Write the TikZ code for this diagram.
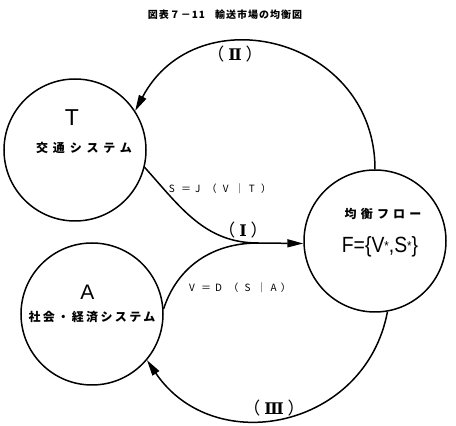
\documentclass[tikz,border=0pt]{standalone}
\usepackage{fontspec}
\newfontfamily\jp{Noto Sans CJK JP}
\newfontfamily\arial{Liberation Sans}
\newfontfamily\numfont{DejaVu Serif}
\usetikzlibrary{arrows.meta, positioning}

\tikzset{
    sys/.style={circle, draw, line width=1.5pt, minimum size=142pt, inner sep=0pt},
    flow/.style={line width=1.5pt},
    tip/.style={-{Triangle[length=16pt, width=8pt]}},
    jptext/.style={font=\jp\bfseries\fontsize{12}{12}\selectfont\addfontfeature{LetterSpace=#1}},
    big/.style={font=\arial\fontsize{#1}{#1}\selectfont},
    eqn/.style={font=\jp\fontsize{10}{10}\selectfont\addfontfeature{LetterSpace=40}},
    stepno/.style={font=\jp\fontsize{17}{17}\selectfont}
}
\newcommand{\sstar}{\raisebox{2.5pt}{\fontsize{13}{13}\selectfont*}}
\newcommand{\stage}[1]{（\hspace{4pt}{\numfont\bfseries\fontsize{16}{16}\selectfont #1}\hspace{4pt}）}

\begin{document}
\begin{tikzpicture}[x=1pt, y=1pt, >=Stealth]
\useasboundingbox (0,0) rectangle (456,426);

% ── Title ──────────────────────────────────────────────
\node[font=\jp\bfseries\fontsize{10}{10}\selectfont\addfontfeature{LetterSpace=10}] (title) at (225,411)
    {図表７－11\quad 輸送市場の均衡図};

% ── Systems ────────────────────────────────────────────
\node[sys] (T) at (75,276) {};
\node[big=23] (Tsym) at (72,308) {T};
\node[jptext=40] (Tname) at (84,278.5) {交通システム};

\node[sys] (A) at (92,112) {};
\node[big=21] (Asym) at (87.5,133.5) {A};
\node[jptext=20] (Aname) at (92,108.5) {社会・経済システム};

% ── Equilibrium flow ───────────────────────────────────
\node[sys] (F) at (375,185) {};
\node[jptext=35] (Fname) at (383,212) {均衡フロー};
\node[big=22, xscale=0.88, transform shape] (Fset) at (380,179) {F=\{V\sstar,S\sstar\}};

% ── Connectors ─────────────────────────────────────────
\coordinate (J) at (258,183);
\draw[flow] (T.-14) to[out=-48, in=180] (J);
\draw[flow] (A.4) to[out=72, in=180] (J);
\draw[flow, tip] (J) -- (F.182);

% (II) back to transport system
\draw[flow, tip] (F.north) .. controls +(0,132) and +(62,117) .. (T.33);
% (III) back to socio-economic system
\draw[flow, tip] (F.-80) .. controls +(-22,-117) and +(67,-99) .. (A.-40);

% ── Labels ─────────────────────────────────────────────
\node[eqn] (Slbl) at (220,237) {S ＝J （ V ｜T ）};
\node[eqn] (Vlbl) at (240,138) {V ＝D （ S ｜A）};
\node[stepno] (one) at (243,196) {\stage{Ⅰ}};
\node[stepno] (two) at (235,372) {\stage{Ⅱ}};
\node[stepno] (three) at (274,18) {\stage{Ⅲ}};

\end{tikzpicture}
\end{document}
